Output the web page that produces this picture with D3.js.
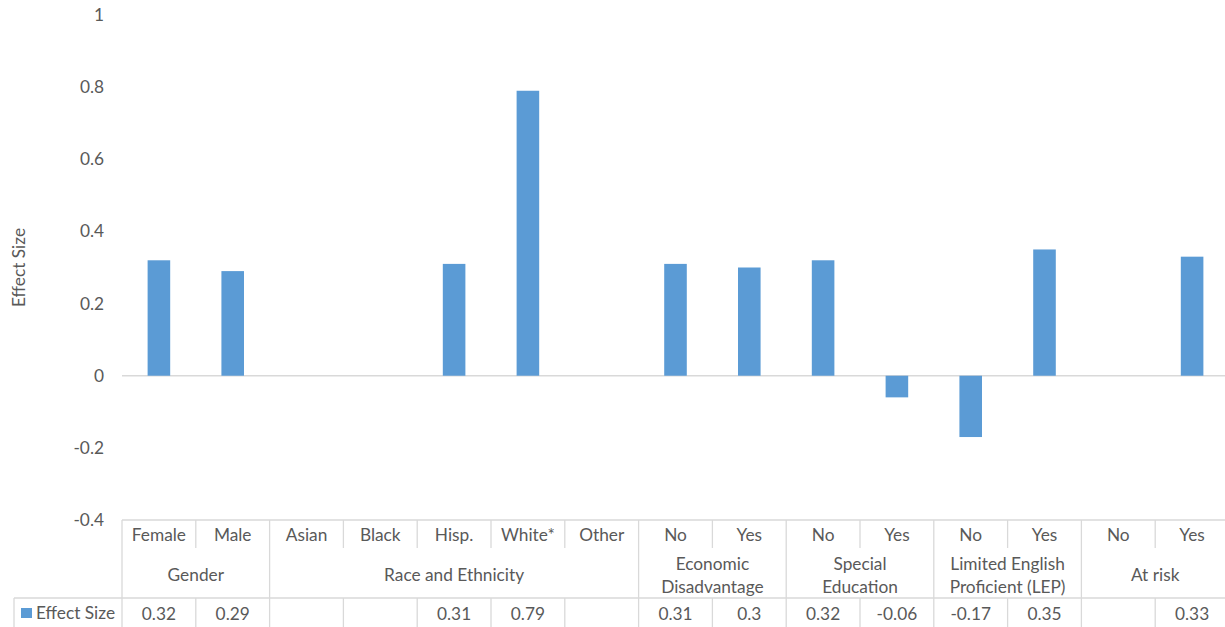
<!DOCTYPE html>
<html>
<head>
<meta charset="utf-8">
<script src="https://cdn.jsdelivr.net/npm/d3@7"></script>
<style>
  html, body { margin: 0; padding: 0; background: #fff; }
  svg { display: block; }
  text { font-family: Lato, "Open Sans", sans-serif; fill: #595959; }
</style>
</head>
<body>
<svg id="chart" width="1225" height="627"></svg>
<script>
// Effect sizes by student subgroup
const categories = ["Female", "Male", "Asian", "Black", "Hisp.", "White*", "Other",
                    "No", "Yes", "No", "Yes", "No", "Yes", "No", "Yes"];
const groupLabels = ["Gender", "Race and Ethnicity", "Economic\nDisadvantage",
                     "Special\nEducation", "Limited English\nProficient (LEP)", "At risk"];
const groupSpans = [2, 5, 2, 2, 2, 2];
const effectSize = [0.32, 0.29, null, null, 0.31, 0.79, null,
                    0.31, 0.3, 0.32, -0.06, -0.17, 0.35, null, 0.33];
const seriesName = "Effect Size";
const yTicks = [-0.4, -0.2, 0, 0.2, 0.4, 0.6, 0.8, 1];

const svg = d3.select("#chart");
const plotLeft = 122, plotRight = 1229;
const plotTop = 15, plotBottom = 520;
const catRowBottom = 548, groupRowBottom = 598, tableBottom = 628;
const legendLeft = 14;
const grid = "#d9d9d9";
const barColor = "#5b9bd5";
const fontSize = "17.3px";

const x = d3.scaleBand().domain(d3.range(categories.length)).range([plotLeft, plotRight]).padding(0);
const y = d3.scaleLinear().domain([-0.4, 1]).range([plotBottom, plotTop]);

// Y axis labels
const yAxis = d3.axisLeft(y).tickValues(yTicks)
  .tickFormat(d => String(+d.toFixed(1))).tickSize(0).tickPadding(18);
const gy = svg.append("g").attr("transform", `translate(${plotLeft},0)`).call(yAxis);
gy.select(".domain").remove();
gy.selectAll("text").style("font-size", fontSize).attr("fill", "#595959")
  .style("font-family", "Lato, 'Open Sans', sans-serif");

// Axis title
svg.append("text")
  .attr("transform", `translate(25,${(plotTop + plotBottom) / 2}) rotate(-90)`)
  .attr("text-anchor", "middle")
  .style("font-size", fontSize)
  .text(seriesName);

// Zero line
svg.append("line")
  .attr("x1", plotLeft).attr("x2", plotRight)
  .attr("y1", y(0)).attr("y2", y(0))
  .attr("stroke", grid).attr("stroke-width", 1.6);

// Bars
const barW = x.bandwidth() * 0.306;
svg.append("g").selectAll("rect")
  .data(effectSize.map((v, i) => ({ v, i })).filter(d => d.v !== null))
  .join("rect")
  .attr("x", d => x(d.i) + (x.bandwidth() - barW) / 2)
  .attr("width", barW)
  .attr("y", d => y(Math.max(0, d.v)))
  .attr("height", d => Math.abs(y(d.v) - y(0)))
  .attr("fill", barColor);

// Data table
const tbl = svg.append("g").attr("stroke", grid).attr("stroke-width", 1.3);
tbl.append("line").attr("x1", plotLeft).attr("x2", plotRight).attr("y1", plotBottom).attr("y2", plotBottom);
tbl.append("line").attr("x1", legendLeft).attr("x2", plotRight).attr("y1", groupRowBottom).attr("y2", groupRowBottom);
tbl.append("line").attr("x1", legendLeft).attr("x2", plotRight).attr("y1", tableBottom).attr("y2", tableBottom);
tbl.append("line").attr("x1", legendLeft).attr("x2", legendLeft).attr("y1", groupRowBottom).attr("y2", tableBottom);

const groupEdges = new Set([0]);
let acc = 0;
groupSpans.forEach(s => { acc += s; groupEdges.add(acc); });
for (let i = 0; i <= categories.length; i++) {
  const xp = i < categories.length ? x(i) : plotRight;
  if (groupEdges.has(i)) {
    tbl.append("line").attr("x1", xp).attr("x2", xp).attr("y1", plotBottom).attr("y2", tableBottom);
  } else {
    tbl.append("line").attr("x1", xp).attr("x2", xp).attr("y1", plotBottom).attr("y2", catRowBottom);
    tbl.append("line").attr("x1", xp).attr("x2", xp).attr("y1", groupRowBottom).attr("y2", tableBottom);
  }
}

// Category labels
svg.append("g").selectAll("text").data(categories).join("text")
  .attr("x", (d, i) => x(i) + x.bandwidth() / 2)
  .attr("y", 535)
  .attr("dy", "0.35em")
  .attr("text-anchor", "middle")
  .style("font-size", fontSize)
  .text(d => d);

// Group labels
let start = 0;
groupLabels.forEach((g, gi) => {
  const span = groupSpans[gi];
  const cx = (x(start) + (start + span < categories.length ? x(start + span) : plotRight)) / 2;
  const lines = g.split("\n");
  const lh = 23;
  const cy = (catRowBottom + groupRowBottom) / 2 + 2;
  lines.forEach((ln, li) => {
    svg.append("text")
      .attr("x", cx)
      .attr("y", cy + (li - (lines.length - 1) / 2) * lh)
      .attr("dy", "0.35em")
      .attr("text-anchor", "middle")
      .style("font-size", fontSize)
      .text(ln);
  });
  start += span;
});

// Value row
svg.append("g").selectAll("text").data(effectSize).join("text")
  .attr("x", (d, i) => x(i) + x.bandwidth() / 2)
  .attr("y", 614)
  .attr("dy", "0.35em")
  .attr("text-anchor", "middle")
  .style("font-size", fontSize)
  .text(d => d === null ? "" : String(d));

// Legend key in the table
svg.append("rect").attr("x", 21).attr("y", 608).attr("width", 11).attr("height", 10).attr("fill", barColor);
svg.append("text").attr("x", 36).attr("y", 613).attr("dy", "0.35em")
  .style("font-size", fontSize).text(seriesName);
</script>
</body>
</html>
